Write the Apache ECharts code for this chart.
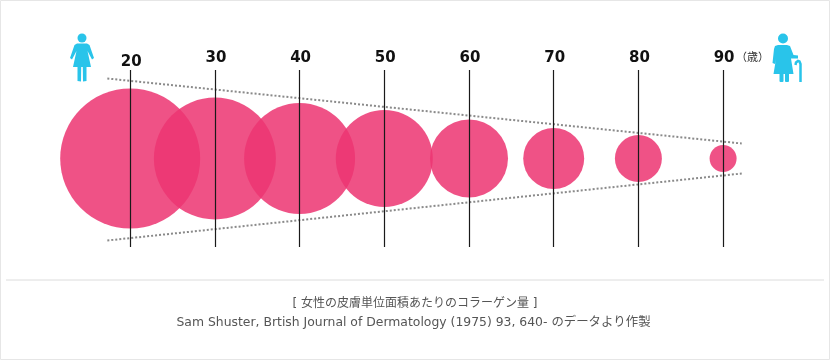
<!DOCTYPE html>
<html><head><meta charset="utf-8">
<style>html,body{margin:0;padding:0;background:#fff}#c{width:830px;height:360px}</style>
<script src="https://cdn.jsdelivr.net/npm/echarts@6/dist/echarts.min.js"></script>
</head><body><div id="c"></div>
<script>
const ages = [20,30,40,50,60,70,80,90];
const diameters = [140,122,111,97,78,61,47,27];
const upperGuide = [[17.3,80],[92.2,15]];
const lowerGuide = [[17.3,-82],[92.2,-15]];
const caption1 = '[ 女性の皮膚単位面積あたりのコラーゲン量 ]';
const caption2 = 'Sam Shuster, Brtish Journal of Dermatology (1975) 93, 640- のデータより作製';
const unit = '（歳）';
const CJK = '"DejaVu Sans","Noto Sans CJK JP",sans-serif';
const BLUE = '#29c4ea';
const chart = echarts.init(document.getElementById('c'),null,{renderer:'canvas'});
const guide = d => ({type:'line',data:d,symbol:'none',clip:false,silent:true,z:4,
  lineStyle:{color:'#8a8a8a',width:2,type:[2,2]}});
chart.setOption({
  animation:false,
  backgroundColor:'#fff',
  grid:{left:45.5,right:22.2,top:70,bottom:113},
  xAxis:{type:'value',position:'top',min:10,max:100,interval:10,z:6,
    axisLine:{show:false},axisTick:{show:false},
    splitLine:{show:true,showMinLine:false,showMaxLine:false,lineStyle:{color:'#1a1a1a',width:1.2}},
    axisLabel:{margin:4,padding:[0,0,0,2],color:'#111',fontSize:15,fontWeight:'bold',fontFamily:'"DejaVu Sans",sans-serif',
      formatter:v=>(v>=20&&v<=90)?(v===20?'{low|'+v+'}':String(v)):'',
      rich:{low:{color:'#111',fontSize:15,fontWeight:'bold',fontFamily:'"DejaVu Sans",sans-serif',padding:[0,0,-4,0]}}}},
  yAxis:{type:'value',min:-88.5,max:88.5,show:false},
  series:[
    {type:'scatter',data:ages.map((a,i)=>[a,0,diameters[i]]),
     symbolSize:d=>d[2],clip:false,z:2,
     itemStyle:{color:'#ec3672',opacity:0.86}},
    guide(upperGuide),guide(lowerGuide)
  ],
  graphic:[
    {type:'rect',shape:{x:0.5,y:0.5,width:829,height:359},style:{fill:'none',stroke:'#e6e6e6',lineWidth:1},z:0},
    {type:'line',shape:{x1:6,y1:280,x2:824,y2:280},style:{stroke:'#dcdcdc',lineWidth:1}},
    {type:'text',x:736,y:52.5,style:{text:unit,font:'11px '+CJK,fill:'#333'}},
    {type:'text',x:415,y:298,style:{text:caption1,font:'12px '+CJK,fill:'#555',align:'center'}},
    {type:'text',x:413.5,y:317,style:{text:caption2,font:'12.4px '+CJK,fill:'#555',align:'center'}},
    {type:'group',x:82,y:34,silent:true,children:[
      {type:'circle',shape:{cx:0,cy:4,r:4.5},style:{fill:BLUE}},
      {type:'polygon',shape:{points:[[-5,9.500],[5,9.500],[7.500,11],[12,24],[10,25.500],[5.500,17],[9,33],[4.500,33],[4.500,47],[1,47.500],[0.800,33],[-0.800,33],[-1,47.500],[-4.500,47],[-4.500,33],[-9,33],[-5.500,17],[-10,25.500],[-12,24],[-7.500,11]]},style:{fill:BLUE}}
    ]},
    {type:'group',x:783,y:34,silent:true,children:[
      {type:'circle',shape:{cx:0,cy:4.500,r:5},style:{fill:BLUE}},
      {type:'polygon',shape:{points:[[-5,11],[4,11],[7,12],[10.500,21],[15,21.500],[15,24.500],[8,24.500],[10.500,40],[-9.500,40],[-7,25],[-8,30],[-10.500,29],[-9,15],[-8,12]]},style:{fill:BLUE}},
      {type:'rect',shape:{x:-3.500,y:39,width:4,height:9,r:1},style:{fill:BLUE}},
      {type:'rect',shape:{x:2,y:39,width:4,height:9,r:1},style:{fill:BLUE}},
      {type:'polyline',shape:{points:[[12.500,31],[13,28.500],[15,27],[16.500,27.500],[17.500,30],[17.500,48]]},style:{fill:'none',stroke:BLUE,lineWidth:2.5}}
    ]}
  ]
});
</script></body></html>
